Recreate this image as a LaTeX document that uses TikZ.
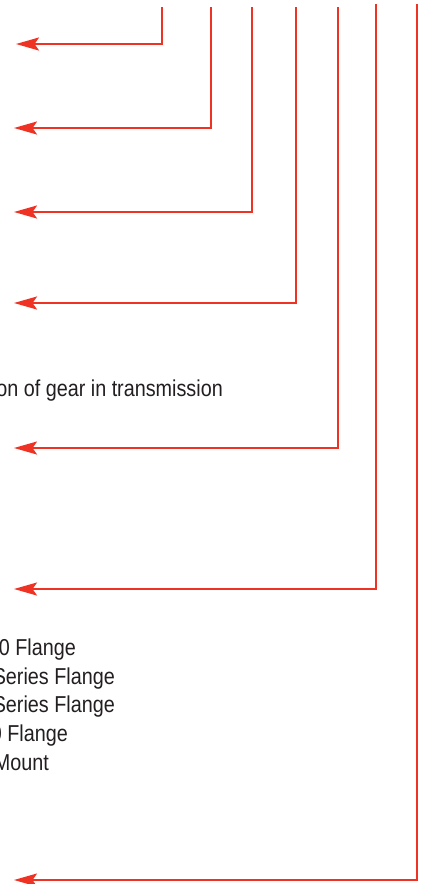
\documentclass[tikz,border=0pt]{standalone}
\usepackage{fontspec}
\setmainfont{Liberation Sans}[FakeStretch=0.86]
\usetikzlibrary{arrows.meta}
\definecolor{cred}{RGB}{238,50,36}
\definecolor{ctext}{RGB}{35,31,32}
\begin{document}
\begin{tikzpicture}[x=1pt,y=-1pt,
  lead/.style={draw=cred,line width=2.2pt,-{Stealth[length=23pt,width=13pt,inset=4.5pt]}},
  lbl/.style={anchor=base east,inner sep=0pt,text=ctext,font=\fontsize{23}{27}\selectfont}]
\useasboundingbox (0,0) rectangle (423,884);
\fill[white] (0,0) rectangle (423,884);
% connector ends
\coordinate (t1) at (162,7);  \coordinate (e1) at (16,44);
\coordinate (t2) at (211,7);  \coordinate (e2) at (14,128);
\coordinate (t3) at (252,7);  \coordinate (e3) at (14,212);
\coordinate (t4) at (296,7);  \coordinate (e4) at (14,303);
\coordinate (t5) at (338,7);  \coordinate (e5) at (14,448);
\coordinate (t6) at (376,4);  \coordinate (e6) at (14,589);
\coordinate (t7) at (417,4);  \coordinate (e7) at (14,880);
\foreach \i in {1,...,7} {\draw[lead] (t\i) |- (e\i);}
% labels
\node[lbl] (gear) at (223,396) {on of gear in transmission};
\node[lbl] (fa) at (76,655) {0 Flange};
\node[lbl] (fb) at (115,684) {Series Flange};
\node[lbl] (fc) at (115,712) {Series Flange};
\node[lbl] (fd) at (68,741) {0 Flange};
\node[lbl] (fe) at (49,770) {Mount};
\end{tikzpicture}
\end{document}
